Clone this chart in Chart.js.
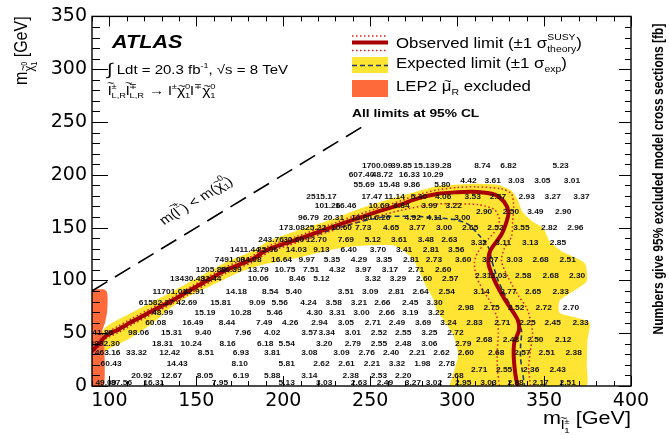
<!DOCTYPE html>
<html>
<head>
<meta charset="utf-8">
<script src="https://cdn.jsdelivr.net/npm/chart.js@4.4.1/dist/chart.umd.min.js"></script>
<style>
  html, body { margin: 0; padding: 0; background: #fff; }
  canvas { display: block; }
</style>
</head>
<body>
<canvas id="c" width="669" height="435" style="width:669px;height:435px"></canvas>
<script>
// axes
const X_MIN = 90, X_MAX = 400, Y_MIN = 0, Y_MAX = 350;
const xTicks = [100, 150, 200, 250, 300, 350, 400];
const yTicks = [0, 50, 100, 150, 200, 250, 300, 350];

// observed limit and its theory +-1 sigma lines  [m_slepton, m_chi]
const observed = [[90,33],[94,40],[98.3,47.8],[105,53.5],[113,61],[124,70.5],[135.8,80.7],[145,89.4],[157.8,101.3],[167,109.8],[182,120],[191.3,129.5],[208,138.8],[226,149.2],[244,159.5],[256,166],[268,172],[276,177],[289,182],[300,183.5],[308,184],[316,183],[322,181],[327,174.5],[329.5,165],[328.5,156],[325.5,143.5],[319,128],[318,116],[321.5,100],[327,83],[331,73],[335,62],[335.5,52.5],[333,42],[332.5,31],[333,18],[334,6],[335,0]];
const theoryUp = [[90,35.5],[94,42.5],[98.3,50.5],[105,56.5],[113,64],[124,73.5],[135.8,83.5],[145,92.3],[157.8,104.3],[167,112.8],[182,123],[191.3,132.5],[208,141.8],[226,152.2],[244,162.8],[268,175.5],[276,180.5],[289,185.8],[300,188],[311,188.6],[325.5,186.7],[331.3,182],[332.5,169.8],[331.9,155.7],[331.3,141.7],[327.2,130.4],[325.5,118.2],[329.5,102.3],[335.3,85.4],[340,74],[342.2,62],[343.4,49.7],[342.2,33.8],[341.1,17.8],[342.2,0]];
const theoryDown = [[90,30.5],[94,37.5],[98.3,45],[105,50.5],[113,58],[124,67.5],[135.8,77.7],[145,86.4],[157.8,98.3],[167,106.8],[182,117],[191.3,126.5],[208,135.8],[226,146],[244,156],[256,161.5],[268,166.5],[280,170.5],[290,172.5],[298.5,172.6],[312.3,171.7],[321.5,167],[324.4,157.6],[322.6,148.2],[316.8,137],[311.6,125.7],[309.9,116.3],[311,104.1],[314.5,91.9],[319.7,77.9],[323.1,63.8],[323.7,49.7],[323.1,33.8],[323.1,17.8],[324.3,0]];

// expected limit and the +-1 sigma band edges
const expected = [[90,32],[94,39],[98.3,46.5],[105,52],[113,59.5],[124,69],[135.8,79.2],[145,88],[157.8,100],[167,108.5],[182,118.5],[191.3,128],[208,137.3],[221.5,144.7],[244.5,155.7],[260,160.4],[279,160.4],[298.3,157.6],[306.4,153],[312.2,143.5],[315.6,137],[318.5,129.5],[319.7,120],[321.4,110.7],[323.7,99.4],[327.2,87.2],[330.6,76],[334,63.8],[337,52.5],[336.5,38.5],[336.5,26.3],[337.6,13],[338.8,0]];
const expBandHigh = [[90,38.5],[98.3,56.3],[111.6,68.5],[135.8,89.1],[145.1,97.6],[157.8,108.8],[167,117.3],[182,127.6],[191.3,137],[208,147.3],[226,156.7],[244,167.9],[267.7,180.1],[289,189.5],[308.2,191.4],[323.8,190.4],[331.3,184.8],[334.7,176.4],[337.6,165.1],[343.4,155.7],[349.7,149.2],[353.2,137],[360.1,127.6],[373.4,116.3],[374.6,99.4],[367,90],[358.9,80.7],[358.9,69.4],[368.7,64.7],[376.2,60],[375,43.2],[374.6,19.7],[374,0]];
const expBandLow = [[90,24.4],[98.3,33.8],[111.6,45],[123.1,57.2],[134.7,73.2],[146.2,85.4],[160.7,96.6],[175.1,107.9],[186.8,114.4],[201.2,119.1],[209.9,122],[221.4,126.6],[235.9,131.3],[250.3,133.2],[263,133.2],[268.8,128.5],[274.6,120],[278.1,108.8],[282.1,94.7],[286.2,82.6],[288.5,71.3],[292.5,61.9],[297.1,50.7],[299.4,40.3],[300.6,29.1],[298.9,17.8],[297.2,8.4],[296,0]];

// LEP2 smuon exclusion and kinematic limit
const lepRegion = [[90,0],[96.5,0],[97.3,8],[97.3,25],[97,38],[96,45],[96,53],[97.5,60],[98.7,70],[99,82],[98.6,89],[97,91.5],[90,91.5]];
const kinLine = [[90,90],[246,246]];
const kinLabelAt = [150, 175];

// excluded cross sections [fb] at the grid points
const xsecLabels = [
  [254,208,'1700.09'],[268,208,'39.85'],[281,208,'15.13'],[292,208,'9.28'],[314.5,208,'8.74'],[329.5,208,'6.82'],[359.5,208,'5.23'],
  [245,200,'607.40'],[257,200,'48.72'],[272.5,200,'16.33'],[286,200,'10.29'],
  [306.5,194.5,'4.42'],[320.5,194.5,'3.61'],[334,194.5,'3.03'],[349,194.5,'3.05'],[366,194.5,'3.01'],
  [246.5,190,'55.69'],[261,190,'15.48'],[274,190,'9.86'],[291.5,190,'5.80'],
  [222,179,'2515.17'],[251,179,'17.47'],[264,179,'11.14'],[278,179,'5.40'],[292,179,'4.06'],[309,179,'3.53'],[323.5,179,'2.57'],[340,179,'2.93'],[355,179,'3.27'],[371.5,179,'3.37'],
  [225.5,170.5,'101.26'],[236,170.5,'16.46'],[255,170.5,'10.69'],[268,170.5,'6.84'],[284,170.5,'3.99'],[298,170.5,'3.22'],
  [315.5,165,'2.90'],[331,165,'2.50'],[345,165,'3.49'],[361,165,'2.90'],
  [214.5,159.5,'96.79'],[229,159.5,'20.31'],[245,159.5,'10.80'],[257,159.5,'6.26'],[274.5,159.5,'4.92'],[287,159.5,'4.11'],[303,159.5,'3.00'],
  [205,149.5,'173.08'],[218.6,149.5,'25.22'],[233.5,149.5,'10.60'],[246,149.5,'7.73'],[262,149.5,'4.65'],[277,149.5,'3.77'],[292.5,149.5,'3.00'],[307.5,149.5,'2.65'],[322,149.5,'2.52'],[337,149.5,'3.55'],[353,149.5,'2.82'],[368,149.5,'2.96'],
  [193,138.5,'243.76'],[206,138.5,'30.60'],[219,138.5,'12.70'],[236,138.5,'7.69'],[251.5,138.5,'5.12'],[266.6,138.5,'3.61'],[282,138.5,'3.48'],[295.5,138.5,'2.63'],
  [312.5,135.5,'3.32'],[326.5,135.5,'3.11'],[342,135.5,'3.13'],[358,135.5,'2.85'],
  [178,129,'1411.44'],[191,129,'25.06'],[207.5,129,'14.03'],[222,129,'9.13'],[237.6,129,'6.40'],[254.5,129,'3.70'],[269.5,129,'3.41'],[285,129,'2.81'],[299.5,129,'3.56'],
  [169.4,119.7,'7491.00'],[181.5,119.7,'34.08'],[199,119.7,'16.64'],[213.5,119.7,'9.97'],[228,119.7,'5.35'],[243.5,119.7,'4.29'],[258,119.7,'3.35'],[273.5,119.7,'2.81'],[286.7,119.7,'2.73'],[303.5,119.7,'3.60'],[319,119.7,'3.07'],[333,119.7,'3.03'],[348,119.7,'2.68'],[363.6,119.7,'2.51'],
  [158.4,109.5,'1205.89'],[170,109.5,'36.39'],[185.6,109.5,'13.79'],[201,109.5,'10.75'],[216,109.5,'7.51'],[231,109.5,'4.32'],[246,109.5,'3.97'],[261.4,109.5,'3.17'],[276.4,109.5,'2.71'],[292,109.5,'2.60'],
  [315,104,'2.31'],[324,104,'3.03'],[338,104,'2.58'],[353.8,104,'2.68'],[369,104,'2.30'],
  [145,101,'13430.49'],[158.4,101,'32.44'],[185.6,101,'10.06'],[208,101,'8.46'],[222,101,'5.12'],[251.5,101,'3.32'],[266,101,'3.29'],[281,101,'2.60'],[296,101,'2.57'],
  [134.7,89.4,'11701.01'],[148.6,89.4,'42.91'],[173,89.4,'14.18'],[192.5,89.4,'8.54'],[206,89.4,'5.40'],[236,89.4,'3.51'],[250,89.4,'3.09'],[265,89.4,'2.81'],[279,89.4,'2.64'],[294,89.4,'2.54'],[314,89.4,'3.14'],[329.5,89.4,'2.77'],[343.7,89.4,'2.65'],[359.6,89.4,'2.33'],
  [127,79,'61582.27'],[144.5,79,'42.69'],[164,79,'15.81'],[185,79,'9.09'],[198,79,'5.56'],[214.5,79,'4.24'],[229,79,'3.58'],[243.5,79,'3.21'],[257,79,'2.66'],[273,79,'2.45'],[287,79,'3.30'],
  [305,73.8,'2.98'],[319.8,73.8,'2.75'],[334,73.8,'2.52'],[349.8,73.8,'2.72'],[365.5,73.8,'2.70'],
  [130.6,68.8,'48.99'],[155,68.8,'15.19'],[175.7,68.8,'10.28'],[195,68.8,'5.46'],[218,68.8,'4.30'],[231,68.8,'3.31'],[245,68.8,'3.00'],[259.5,68.8,'2.66'],[273,68.8,'3.19'],[288,68.8,'3.22'],
  [126.6,59.4,'60.08'],[148,59.4,'16.49'],[167.6,59.4,'8.44'],[189,59.4,'7.49'],[204,59.4,'4.26'],[220.8,59.4,'2.94'],[236,59.4,'3.05'],[251.5,59.4,'2.71'],[265.4,59.4,'2.49'],[280.4,59.4,'3.69'],[295,59.4,'3.24'],[310,59.4,'2.83'],[326,59.4,'2.71'],[340.4,59.4,'2.25'],[355,59.4,'2.45'],[371,59.4,'2.33'],
  [93.5,50,'3741.86'],[116.8,50,'98.06'],[135.8,50,'15.31'],[154,50,'9.40'],[176.8,50,'7.96'],[193.6,50,'4.02'],[215,50,'3.57'],[225,50,'3.34'],[240,50,'3.01'],[255,50,'2.52'],[269,50,'2.55'],[284,50,'3.25'],[299,50,'2.72'],
  [315.6,43.8,'2.68'],[331,43.8,'2.48'],[345,43.8,'2.50'],[361,43.8,'2.12'],
  [96,40,'23992.30'],[130.6,40,'18.31'],[147,40,'10.24'],[168,40,'8.16'],[189.6,40,'6.18'],[202,40,'5.54'],[223.6,40,'3.20'],[240,40,'2.79'],[255,40,'2.55'],[269,40,'2.48'],[284,40,'3.06'],[303.5,40,'2.79'],
  [99,31.2,'463.16'],[115.6,31.2,'33.32'],[134.7,31.2,'12.42'],[155.5,31.2,'8.51'],[175.7,31.2,'6.93'],[193.6,31.2,'3.81'],[215,31.2,'3.08'],[233.5,31.2,'3.09'],[248,31.2,'2.76'],[262,31.2,'2.40'],[277,31.2,'2.21'],[291,31.2,'2.62'],[305,31.2,'2.60'],[322.5,31.2,'2.68'],[337.6,31.2,'2.57'],[351.5,31.2,'2.51'],[367,31.2,'2.38'],
  [101,21.2,'60.43'],[139,21.2,'14.43'],[175,21.2,'8.10'],[202,21.2,'5.81'],[222,21.2,'2.62'],[236.4,21.2,'2.61'],[251,21.2,'2.21'],[265.4,21.2,'3.32'],[280,21.2,'1.98'],[294,21.2,'2.78'],
  [312.7,15,'2.71'],[327,15,'2.55'],[342.6,15,'2.36'],[357.8,15,'2.43'],
  [118.6,9.4,'20.92'],[135.8,9.4,'12.67'],[155,9.4,'8.05'],[175.7,9.4,'6.19'],[193.6,9.4,'5.88'],[215,9.4,'3.14'],[238.8,9.4,'2.38'],[255,9.4,'2.53'],[269,9.4,'2.20'],[299,9.4,'2.68'],
  [98,2.5,'49.09'],[107,2.5,'87.56'],[125.5,2.5,'16.31'],[163.6,2.5,'7.95'],[202,2.5,'5.13'],[223.6,2.5,'3.03'],[243.5,2.5,'2.63'],[258.5,2.5,'2.49'],[274.6,2.5,'3.27'],[286.7,2.5,'3.02'],[303.5,2.5,'2.95'],[318,2.5,'3.03'],[333.6,2.5,'2.88'],[348,2.5,'2.17'],[363.6,2.5,'2.51']
];

// colours
const RED = '#a80000', RED_DOT = '#d81e1e', BLUE = '#1e3a66', YELLOW = '#ffe433', ORANGE = '#ff6a3a';
const SX = 1.2; // the original figure is stretched sideways
const FONT = '"Liberation Sans", Arial, sans-serif';

const pts = a => a.map(([x, y]) => ({ x, y }));

function curve(data, color, width, dash, order) {
  return {
    data: pts(data), showLine: true, fill: false, borderColor: color, borderWidth: width,
    borderDash: dash, pointRadius: 0, tension: 0.25, order
  };
}
function shape(data, color, order) {
  return {
    data: pts(data), showLine: true, fill: 'shape', backgroundColor: color,
    borderColor: 'rgba(0,0,0,0)', borderWidth: 0, pointRadius: 0, tension: 0.2, order
  };
}

// text with sub/superscripts: [text, scale, dy(em), tildeLevel, noAdvance]
function rich(ctx, parts, x, y, size, o = {}) {
  const pre = (o.italic ? 'italic ' : '') + (o.bold ? 'bold ' : '');
  const font = s => pre + s + 'px ' + FONT;
  const items = [];
  let cx = 0, hold = 0;
  for (const p of parts) {
    const [t, s = 1, dy = 0, tl = 0, na = false] = p;
    ctx.font = font(size * s);
    const w = ctx.measureText(t).width;
    items.push({ t, fs: size * s, dy: dy * size, tl, x: cx, w });
    if (na) hold = Math.max(hold, w);
    else { cx += Math.max(w, hold); hold = 0; }
  }
  let x0 = 0;
  if (o.align === 'right') x0 = -cx;
  if (o.align === 'center') x0 = -cx / 2;
  ctx.save();
  ctx.translate(x, y);
  ctx.scale(SX, 1);
  if (o.rot) ctx.rotate(o.rot);
  ctx.fillStyle = '#000';
  ctx.textAlign = 'left';
  ctx.textBaseline = o.baseline || 'alphabetic';
  for (const it of items) {
    ctx.font = font(it.fs);
    ctx.fillText(it.t, x0 + it.x, it.dy);
    if (it.tl) {
      ctx.font = (it.fs * 0.8) + 'px ' + FONT;
      ctx.textAlign = 'center';
      ctx.fillText('~', x0 + it.x + it.w / 2 + it.fs * 0.06, it.dy - it.fs * it.tl);
      ctx.textAlign = 'left';
    }
  }
  ctx.restore();
}

const decor = {
  id: 'decor',
  afterDatasetsDraw(chart) {
    const { ctx, chartArea: a, scales: { x, y } } = chart;

    // cross-section numbers
    ctx.save();
    ctx.beginPath();
    ctx.rect(a.left, a.top, a.right - a.left, a.bottom - a.top);
    ctx.clip();
    ctx.fillStyle = '#111';
    ctx.font = 'bold 7px ' + FONT;
    ctx.textAlign = 'center';
    ctx.textBaseline = 'middle';
    for (const [vx, vy, t] of xsecLabels) {
      ctx.save();
      ctx.translate(x.getPixelForValue(vx), y.getPixelForValue(vy));
      ctx.scale(SX, 1);
      ctx.fillText(t, 0, 0);
      ctx.restore();
    }
    ctx.restore();

    // frame + inner ticks
    ctx.save();
    ctx.strokeStyle = '#000';
    ctx.lineWidth = 1;
    ctx.beginPath();
    for (let v = X_MIN; v <= X_MAX; v += 10) {
      const px = Math.round(x.getPixelForValue(v)) + 0.5;
      const len = xTicks.includes(v) ? 10 : 5;
      ctx.moveTo(px, a.bottom); ctx.lineTo(px, a.bottom - len);
      ctx.moveTo(px, a.top); ctx.lineTo(px, a.top + len);
    }
    for (let v = Y_MIN; v <= Y_MAX; v += 10) {
      const py = Math.round(y.getPixelForValue(v)) + 0.5;
      const major = yTicks.includes(v);
      ctx.moveTo(a.left, py); ctx.lineTo(a.left + (major ? 16 : 8), py);
      ctx.moveTo(a.right, py); ctx.lineTo(a.right - (major ? 12 : 6), py);
    }
    ctx.stroke();
    ctx.lineWidth = 1.4;
    ctx.strokeRect(a.left, a.top, a.right - a.left, a.bottom - a.top);
    ctx.restore();

    // kinematic line label, rotated along y = x
    const ang = Math.atan2(y.getPixelForValue(100) - y.getPixelForValue(200), x.getPixelForValue(200) - x.getPixelForValue(100));
    const angO = Math.atan(SX * Math.tan(ang));
    rich(ctx, [['m('], ['l', 1, 0, 0.62], ['±', 0.6, -0.5], [') < m('], ['χ', 1, 0, 0.42], ['0', 0.6, -0.5, 0, true], ['1', 0.6, 0.25], [')']],
      x.getPixelForValue(kinLabelAt[0]), y.getPixelForValue(kinLabelAt[1]), 13, { align: 'center', rot: -angO, baseline: 'middle' });

    // top-left labels
    rich(ctx, [['ATLAS']], 112, 48, 18, { bold: true, italic: true });
    rich(ctx, [['∫', 1.35, 0.1], [' Ldt = 20.3 fb'], ['-1', 0.6, -0.45], [', '], ['√'], ['s = 8 TeV']], 107, 74, 12.5);
    rich(ctx, [['l', 1, 0, 0.62], ['±', 0.6, -0.5, 0, true], ['L,R', 0.6, 0.25], ['l', 1, 0, 0.62], ['∓', 0.6, -0.5, 0, true], ['L,R', 0.6, 0.25],
      [' → '], ['l'], ['±', 0.6, -0.5], ['χ', 1, 0, 0.42], ['0', 0.6, -0.5, 0, true], ['1', 0.6, 0.25],
      ['l'], ['∓', 0.6, -0.5], ['χ', 1, 0, 0.42], ['0', 0.6, -0.5, 0, true], ['1', 0.6, 0.25]], 108, 95, 13);

    // legend
    const L0 = 352, L1 = 388, TX = 396;
    ctx.save();
    ctx.strokeStyle = RED; ctx.lineWidth = 4;
    ctx.beginPath(); ctx.moveTo(L0, 42.5); ctx.lineTo(L1, 42.5); ctx.stroke();
    ctx.strokeStyle = RED_DOT; ctx.lineWidth = 1.5; ctx.setLineDash([1.5, 2.5]);
    ctx.beginPath(); ctx.moveTo(L0, 36); ctx.lineTo(L1, 36); ctx.moveTo(L0, 50.5); ctx.lineTo(L1, 50.5); ctx.stroke();
    ctx.setLineDash([]);
    ctx.fillStyle = YELLOW; ctx.fillRect(L0, 57, L1 - L0, 16);
    ctx.strokeStyle = BLUE; ctx.lineWidth = 1.6; ctx.setLineDash([5, 3]);
    ctx.beginPath(); ctx.moveTo(L0, 65.5); ctx.lineTo(L1, 65.5); ctx.stroke();
    ctx.setLineDash([]);
    ctx.fillStyle = ORANGE; ctx.fillRect(L0, 80, L1 - L0, 17);
    ctx.restore();
    rich(ctx, [['Observed limit (±1 σ'], ['SUSY', 0.62, -0.55, 0, true], ['theory', 0.62, 0.28], [')']], TX, 48, 14);
    rich(ctx, [['Expected limit (±1 σ'], ['exp', 0.62, 0.28], [')']], TX, 68, 14);
    rich(ctx, [['LEP2 '], ['μ', 1, 0, 0.42], ['R', 0.62, 0.3], [' excluded']], TX, 91, 14);
    rich(ctx, [['All limits at 95% CL']], L0, 117, 11.5, { bold: true });

    // axis titles
    rich(ctx, [['m'], ['l', 0.7, 0.3, 0.62], ['±', 0.45, 0.0, 0, true], ['1', 0.45, 0.5], [' [GeV]']], a.right, 424, 18, { align: 'right' });
    rich(ctx, [['m'], ['χ', 0.7, 0.3, 0.42], ['0', 0.45, 0.02, 0, true], ['1', 0.45, 0.5], [' [GeV]']], 27, a.top, 16, { align: 'right', rot: -Math.PI / 2 });
    rich(ctx, [['Numbers give 95% excluded model cross sections [fb]']], 663, 179, 12, { bold: true, align: 'center', rot: -Math.PI / 2 });
  }
};

new Chart(document.getElementById('c'), {
  type: 'scatter',
  data: {
    datasets: [
      shape(expBandHigh.concat(expBandLow.slice().reverse()), YELLOW, 11),
      shape(lepRegion, ORANGE, 10),
      curve(expected, BLUE, 1.6, [5, 3], 8),
      curve(theoryUp, RED_DOT, 1.5, [1.5, 2.5], 7),
      curve(theoryDown, RED_DOT, 1.5, [1.5, 2.5], 7),
      curve(observed, RED, 4, [], 6),
      curve(kinLine, '#000', 1.6, [18, 9], 5)
    ]
  },
  options: {
    responsive: false,
    animation: false,
    devicePixelRatio: 1,
    events: [],
    layout: { padding: { top: 13, right: 38, bottom: 0, left: 0 } },
    plugins: { legend: { display: false }, tooltip: { enabled: false } },
    scales: {
      x: {
        type: 'linear', min: X_MIN, max: X_MAX,
        grid: { display: false, drawTicks: false }, border: { display: false },
        ticks: { font: { family: 'DejaVu Sans', size: 19 }, color: '#000', padding: 4, maxRotation: 0, autoSkip: false },
        afterBuildTicks: s => { s.ticks = xTicks.map(v => ({ value: v })); },
        afterFit: s => { s.height = 49; }
      },
      y: {
        type: 'linear', min: Y_MIN, max: Y_MAX,
        grid: { display: false, drawTicks: false }, border: { display: false },
        ticks: { font: { family: 'DejaVu Sans', size: 19 }, color: '#000', padding: 5, autoSkip: false },
        afterBuildTicks: s => { s.ticks = yTicks.map(v => ({ value: v })); },
        afterFit: s => { s.width = 92; }
      }
    }
  },
  plugins: [decor]
});
</script>
</body>
</html>
